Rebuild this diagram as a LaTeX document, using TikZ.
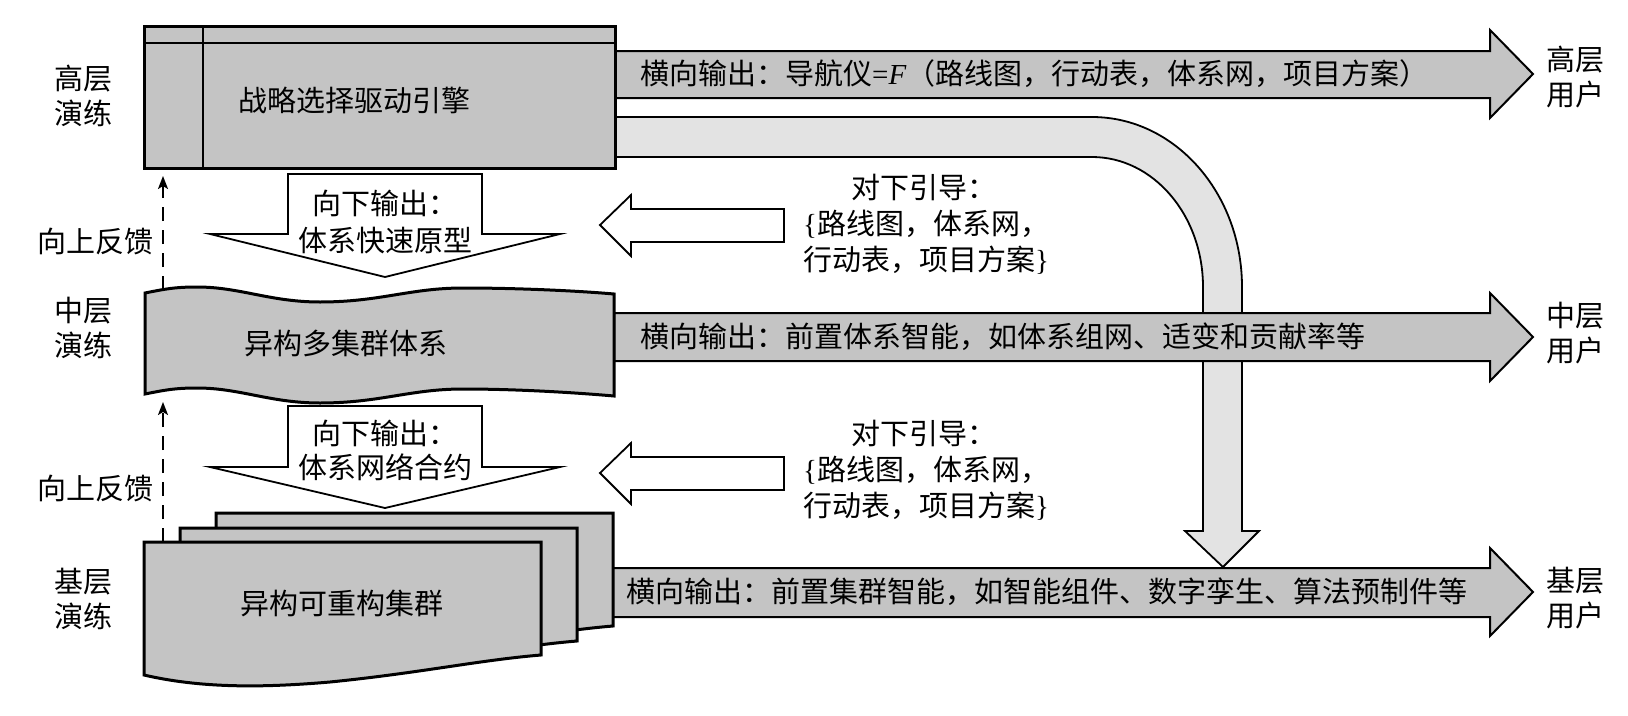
\documentclass[tikz,border=0pt]{standalone}
\usepackage{fontspec}
\setmainfont{Noto Sans CJK SC}
\newfontfamily\lserif{Liberation Serif}
\usetikzlibrary{arrows.meta}
\definecolor{boxgray}{HTML}{C4C4C4}
\definecolor{bandgray}{HTML}{E3E3E3}
\tikzset{
  shapebox/.style={draw=black, fill=boxgray, line width=3pt, line join=miter},
  bigarrow/.style={draw=black, fill=boxgray, line width=2pt, line join=miter},
  band/.style={draw=black, fill=bandgray, line width=1.8pt, line join=miter},
  hollow/.style={draw=black, fill=white, line width=1.8pt, line join=miter},
  txt/.style={font=\fontsize{29}{35}\selectfont, inner sep=0pt, align=center},
  feedback/.style={draw=black, line width=2pt, dash pattern=on 14pt off 9pt, -{Stealth[length=13pt,width=10pt,inset=3pt]}},
}
\begin{document}
\begin{tikzpicture}[x=1pt,y=-1pt]
\useasboundingbox (0,0) rectangle (1628,715);

% curved guidance band
\draw[band] (615,117) -- (1092,117) .. controls (1174.8,117) and (1242,193.1) .. (1242,287)
  -- (1242,531) -- (1259,531) -- (1223,567) -- (1185,531) -- (1203,531) -- (1203,287)
  .. controls (1203,215.2) and (1153.3,157) .. (1092,157) -- (615,157) -- cycle;

% horizontal output arrows
\draw[bigarrow] (615,51) -- (1490,51) -- (1490,30) -- (1533,74) -- (1490,118) -- (1490,98) -- (615,98) -- cycle;
\draw[bigarrow] (614,313) -- (1490,313) -- (1490,293) -- (1533,337) -- (1490,381) -- (1490,361) -- (614,361) -- cycle;
\draw[bigarrow] (612,568) -- (1490,568) -- (1490,548) -- (1533,592) -- (1490,636) -- (1490,617) -- (612,617) -- cycle;

% top box
\draw[shapebox] (144,26) rectangle (615,168);
\draw[line width=2pt] (144,43) -- (615,43);
\draw[line width=2pt] (203,26) -- (203,168);

% middle wavy shape
\draw[shapebox] (145,293) .. controls (165,289) and (175,287) .. (197,287)
  .. controls (240,287) and (270,302) .. (320,302)
  .. controls (380,302) and (410,288) .. (463,288)
  .. controls (520,288) and (580,291) .. (614,294)
  -- (614,396)
  .. controls (580,393) and (520,389) .. (463,389)
  .. controls (410,389) and (380,403) .. (320,403)
  .. controls (270,403) and (240,388) .. (197,388)
  .. controls (175,388) and (165,390) .. (145,394) -- cycle;

% bottom stacked boxes
\foreach \dx/\dy in {72/-29, 36/-14, 0/0}{
  \draw[shapebox, shift={(\dx,\dy)}] (144,542) -- (541,542) -- (541,655)
    .. controls (480,660) and (420,673) .. (330,682)
    .. controls (260,688) and (200,688) .. (144,675) -- cycle;
}

% downward output arrows
\draw[hollow] (288,174) -- (482,174) -- (482,234) -- (560,234) -- (385,277) -- (210,234) -- (288,234) -- cycle;
\draw[hollow] (288,406) -- (482,406) -- (482,467) -- (560,467) -- (385,508) -- (210,467) -- (288,467) -- cycle;

% leftward guidance arrows
\draw[hollow] (784,209) -- (631,209) -- (631,195) -- (600,225) -- (631,256) -- (631,242) -- (784,242) -- cycle;
\draw[hollow] (784,457) -- (631,457) -- (631,443) -- (600,473) -- (631,504) -- (631,490) -- (784,490) -- cycle;

% texts in boxes
\node[txt] (engine) at (354,100) {战略选择驱动引擎};
\node[txt] (system) at (346,343) {异构多集群体系};
\node[txt] (cluster) at (342,603) {异构可重构集群};

% texts in down arrows
\node[txt, font=\fontsize{29}{37}\selectfont] (down1) at (385,221.5) {向下输出：\\体系快速原型};
\node[txt, font=\fontsize{29}{34}\selectfont] (down2) at (385,450) {向下输出：\\体系网络合约};

% guidance texts
\node[txt, anchor=west, align=left, font=\fontsize{29}{36}\selectfont] (guide1) at (803,224)
  {\hspace*{1.65em}对下引导：\\{\lserif\{}路线图，体系网，\\行动表，项目方案{\lserif\}}};
\node[txt, anchor=west, align=left, font=\fontsize{29}{36}\selectfont] (guide2) at (803,470)
  {\hspace*{1.65em}对下引导：\\{\lserif\{}路线图，体系网，\\行动表，项目方案{\lserif\}}};

% arrow texts
\node[txt, anchor=west] (out1) at (640,74) {横向输出：导航仪{\lserif =\textit{F}}（路线图，行动表，体系网，项目方案）};
\node[txt, anchor=west] (out2) at (640,337) {横向输出：前置体系智能，如体系组网、适变和贡献率等};
\node[txt, anchor=west] (out3) at (626,592) {横向输出：前置集群智能，如智能组件、数字孪生、算法预制件等};

% left labels
\node[txt] (lv1) at (83,95.5) {高层\\演练};
\node[txt] (fb1) at (95,241) {向上反馈};
\node[txt] (lv2) at (83,328) {中层\\演练};
\node[txt] (fb2) at (95,488) {向上反馈};
\node[txt] (lv3) at (83,599) {基层\\演练};

% right labels
\node[txt] (u1) at (1575,77) {高层\\用户};
\node[txt] (u2) at (1575,333) {中层\\用户};
\node[txt] (u3) at (1575,598) {基层\\用户};

% feedback connectors
\coordinate (midtop) at (163,290);
\coordinate (topend) at (163,176);
\coordinate (fronttop) at (163,542);
\coordinate (midend) at (163,402);
\draw[feedback] (midtop) -- (topend);
\draw[feedback] (fronttop) -- (midend);
\end{tikzpicture}
\end{document}
